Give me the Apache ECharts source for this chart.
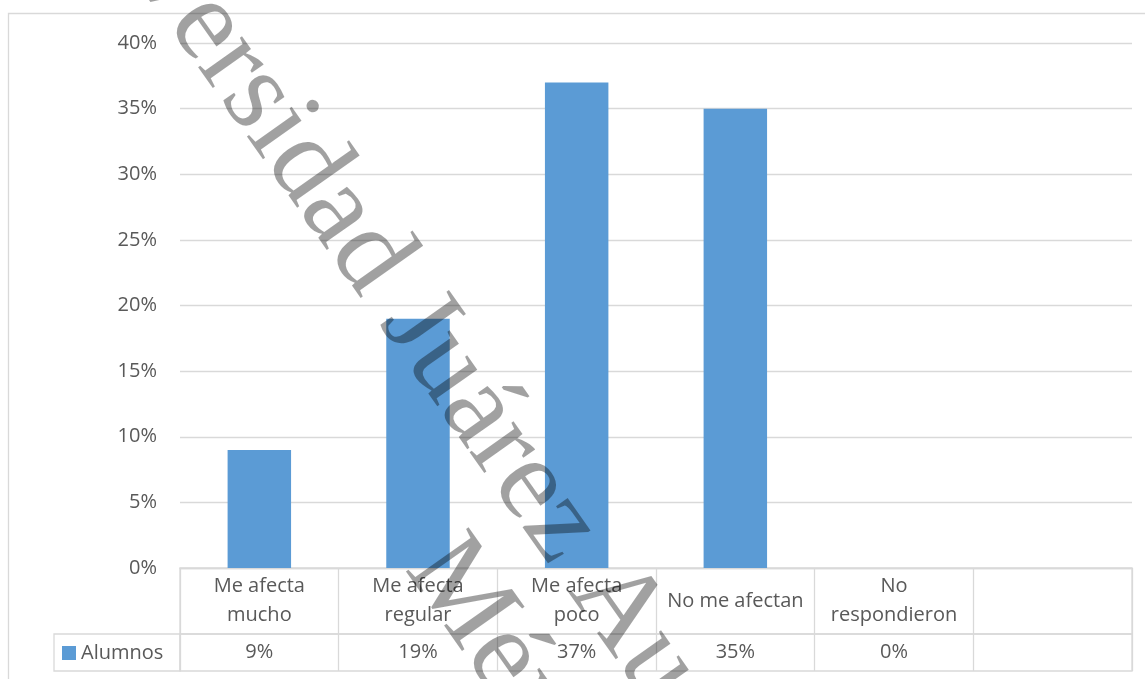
<!DOCTYPE html>
<html>
<head>
<meta charset="utf-8">
<script src="https://cdn.jsdelivr.net/npm/echarts@6/dist/echarts.min.js"></script>
<style>
html,body{margin:0;padding:0;background:#fff;}
#main{width:1145px;height:679px;}
</style>
</head>
<body>
<div id="main"></div>
<script>
// ---- data ----
var categories = ['Me afecta\nmucho', 'Me afecta\nregular', 'Me afecta\npoco', 'No me afectan', 'No\nrespondieron', ''];
var seriesName = 'Alumnos';
var values = [9, 19, 37, 35, 0, null];
var yTicks = { min: 0, max: 40, interval: 5 };
var watermarkLines = ['Universidad Juárez Autónoma de Tabasco', 'México'];

var FONT = '"Open Sans", sans-serif';
var TXT = '#595959';
var LINE = '#d9d9d9';
var BLUE = '#5B9BD5';

var chart = echarts.init(document.getElementById('main'), null, { renderer: 'canvas' });

var rot = -54.8 * Math.PI / 180;
var wmStyle = function (t) {
  return {
    text: t,
    font: '117px "Liberation Serif", serif',
    fontSize: 117,
    fontFamily: '"Liberation Serif", serif',
    fill: 'rgba(0,0,0,0.37)',
    textAlign: 'left', align: 'left',
    textVerticalAlign: 'middle', verticalAlign: 'middle'
  };
};

var option = {
  backgroundColor: '#fff',
  animation: false,
  textStyle: { fontFamily: FONT },
  legend: {
    data: [seriesName],
    left: 62, top: 643,
    icon: 'rect', itemWidth: 14, itemHeight: 14,
    textStyle: { fontSize: 20, color: TXT, fontFamily: FONT },
    padding: 0
  },
  grid: [
    { left: 180, right: 13, top: 43, height: 525 },
    { left: 180, right: 13, top: 568, height: 66, show: true, borderColor: LINE, borderWidth: 1.3, backgroundColor: 'transparent' },
    { left: 180, right: 13, top: 634, height: 37, show: true, borderColor: LINE, borderWidth: 1.3, backgroundColor: 'transparent' }
  ],
  xAxis: [
    { gridIndex: 0, type: 'category', data: categories,
      axisLine: { show: true, lineStyle: { color: LINE, width: 1.3 } },
      axisTick: { show: false }, axisLabel: { show: false }, splitLine: { show: false } },
    { gridIndex: 1, type: 'category', data: categories, position: 'top',
      axisLine: { show: false }, axisTick: { show: false },
      splitLine: { show: true, lineStyle: { color: LINE, width: 1.3 } },
      axisLabel: { show: true, inside: true, interval: 0, margin: 33, verticalAlign: 'middle',
        lineHeight: 29, fontSize: 20, color: TXT, fontFamily: FONT, align: 'center' } },
    { gridIndex: 2, type: 'category', data: categories, position: 'top',
      axisLine: { show: false }, axisTick: { show: false },
      splitLine: { show: true, lineStyle: { color: LINE, width: 1.3 } },
      axisLabel: { show: true, inside: true, interval: 0, margin: 18.5, verticalAlign: 'middle',
        fontSize: 20, color: TXT, fontFamily: FONT, align: 'center',
        formatter: function (v, i) { return values[i] == null ? '' : values[i] + '%'; } } }
  ],
  yAxis: [
    { gridIndex: 0, type: 'value', min: yTicks.min, max: yTicks.max, interval: yTicks.interval,
      axisLine: { show: false }, axisTick: { show: false },
      axisLabel: { formatter: '{value}%', fontSize: 20, color: TXT, margin: 23, fontFamily: FONT },
      splitLine: { show: true, lineStyle: { color: LINE, width: 1.3 } } },
    { gridIndex: 1, type: 'value', show: false },
    { gridIndex: 2, type: 'value', show: false }
  ],
  series: [
    { name: seriesName, type: 'bar', xAxisIndex: 0, yAxisIndex: 0,
      data: values, barWidth: '40%', itemStyle: { color: BLUE } }
  ],
  graphic: [
    { type: 'rect', z: -1, silent: true,
      shape: { x: 8.5, y: 13.5, width: 1300, height: 800 },
      style: { fill: 'none', stroke: LINE, lineWidth: 1.3 } },
    { type: 'rect', z: 1, silent: true,
      shape: { x: 54, y: 634, width: 126, height: 37 },
      style: { fill: 'none', stroke: LINE, lineWidth: 1.3 } },
    { type: 'text', z: 1000, silent: true, x: 57, y: -186, rotation: rot, style: wmStyle(watermarkLines[0]) },
    { type: 'text', z: 1000, silent: true, x: 429, y: 551, rotation: rot, style: wmStyle(watermarkLines[1]) }
  ]
};
chart.setOption(option);
</script>
</body>
</html>
